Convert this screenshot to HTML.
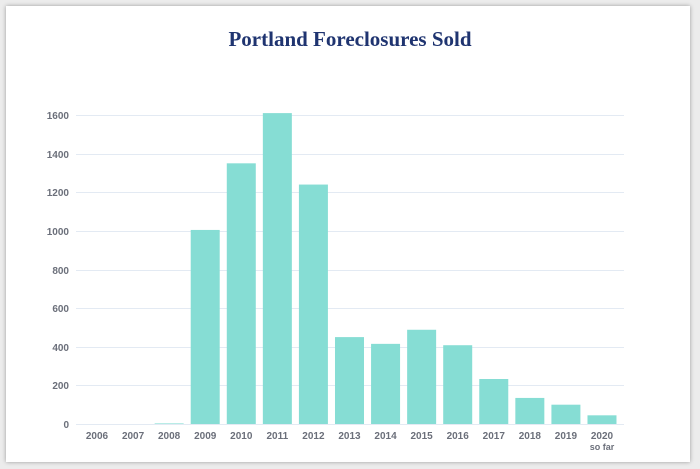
<!DOCTYPE html>
<html><head><style>
body{margin:0;background:#ececec;width:700px;height:469px;overflow:hidden}
.card{position:absolute;left:6px;top:6px;width:684px;height:456px;background:#fff;box-shadow:0 0 4px rgba(0,0,0,.35)}
svg{position:absolute;left:0;top:0}
</style></head><body>
<div class="card"></div>
<svg width="700" height="469" xmlns="http://www.w3.org/2000/svg">
<text x="350" y="46" text-anchor="middle" font-family="Liberation Serif,serif" font-weight="bold" font-size="21" fill="#1f3470">Portland Foreclosures Sold</text>
<g stroke="#e3eaf3" stroke-width="1">
<line x1="76" x2="624" y1="115.5" y2="115.5"/><line x1="76" x2="624" y1="154.5" y2="154.5"/>
<line x1="76" x2="624" y1="192.5" y2="192.5"/><line x1="76" x2="624" y1="231.5" y2="231.5"/>
<line x1="76" x2="624" y1="270.5" y2="270.5"/><line x1="76" x2="624" y1="308.5" y2="308.5"/>
<line x1="76" x2="624" y1="347.5" y2="347.5"/><line x1="76" x2="624" y1="385.5" y2="385.5"/>
<line x1="76" x2="624" y1="424.5" y2="424.5"/>
</g>
<g font-family="Liberation Sans,sans-serif" font-weight="bold" font-size="10" fill="#6b6f7a" text-anchor="end">
<text x="69" y="119">1600</text><text x="69" y="158">1400</text><text x="69" y="196">1200</text>
<text x="69" y="235">1000</text><text x="69" y="274">800</text><text x="69" y="312">600</text>
<text x="69" y="351">400</text><text x="69" y="389">200</text><text x="69" y="428">0</text>
</g>
<g fill="#86ddd4" id="bars"></g>
<g font-family="Liberation Sans,sans-serif" font-weight="bold" font-size="10" fill="#6b6f7a" text-anchor="middle" id="lbl"></g>
<script>
var v=[0,0,3,1005,1350,1610,1240,450,415,488,408,233,135,100,45];
var b=document.getElementById('bars'),l=document.getElementById('lbl'),ns='http://www.w3.org/2000/svg';
v.forEach(function(d,i){var cx=97+i*36.07,h=d*0.1931;
var r=document.createElementNS(ns,'rect');r.setAttribute('x',cx-14.5);r.setAttribute('width',29);r.setAttribute('y',424-h);r.setAttribute('height',h);b.appendChild(r);
var t=document.createElementNS(ns,'text');t.setAttribute('x',cx);t.setAttribute('y',439);t.textContent=2006+i;l.appendChild(t);});
var t=document.createElementNS(ns,'text');t.setAttribute('x',602);t.setAttribute('y',450);t.setAttribute('font-size','9');t.textContent='so far';l.appendChild(t);
</script>
</svg>
</body></html>
